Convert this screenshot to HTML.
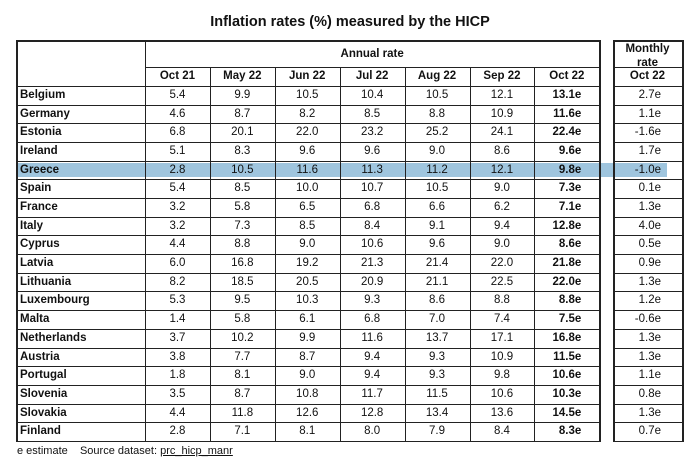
<!DOCTYPE html>
<html><head><meta charset="utf-8"><style>
body{margin:0;width:700px;height:460px;background:#fff;font-family:"Liberation Sans",Arial,sans-serif;position:relative;overflow:hidden;color:#111}
.a{position:absolute}
.t{font-size:11.5px;line-height:1;white-space:nowrap}
.b{font-weight:bold}
.hl{background:#9fc5de}
.ln{background:#222}
</style></head><body>
<div class="a b" style="left:0;width:700px;top:14px;text-align:center;font-size:14.5px">Inflation rates (%) measured by the HICP</div>
<div id="tbl"></div>
<div class="a t" style="left:17px;top:446px;font-size:11px">e estimate&nbsp;&nbsp;&nbsp; Source dataset: <span style="text-decoration:underline">prc_hicp_manr</span></div>
<script>
const countries=["Belgium","Germany","Estonia","Ireland","Greece","Spain","France","Italy","Cyprus","Latvia","Lithuania","Luxembourg","Malta","Netherlands","Austria","Portugal","Slovenia","Slovakia","Finland"];
const months=["Oct 21","May 22","Jun 22","Jul 22","Aug 22","Sep 22","Oct 22"];
const oct21=["5.4","4.6","6.8","5.1","2.8","5.4","3.2","3.2","4.4","6.0","8.2","5.3","1.4","3.7","3.8","1.8","3.5","4.4","2.8"];
const may22=["9.9","8.7","20.1","8.3","10.5","8.5","5.8","7.3","8.8","16.8","18.5","9.5","5.8","10.2","7.7","8.1","8.7","11.8","7.1"];
const jun22=["10.5","8.2","22.0","9.6","11.6","10.0","6.5","8.5","9.0","19.2","20.5","10.3","6.1","9.9","8.7","9.0","10.8","12.6","8.1"];
const jul22=["10.4","8.5","23.2","9.6","11.3","10.7","6.8","8.4","10.6","21.3","20.9","9.3","6.8","11.6","9.4","9.4","11.7","12.8","8.0"];
const aug22=["10.5","8.8","25.2","9.0","11.2","10.5","6.6","9.1","9.6","21.4","21.1","8.6","7.0","13.7","9.3","9.3","11.5","13.4","7.9"];
const sep22=["12.1","10.9","24.1","8.6","12.1","9.0","6.2","9.4","9.0","22.0","22.5","8.8","7.4","17.1","10.9","9.8","10.6","13.6","8.4"];
const oct22=["13.1e","11.6e","22.4e","9.6e","9.8e","7.3e","7.1e","12.8e","8.6e","21.8e","22.0e","8.8e","7.5e","16.8e","11.5e","10.6e","10.3e","14.5e","8.3e"];
const monthly=["2.7e","1.1e","-1.6e","1.7e","-1.0e","0.1e","1.3e","4.0e","0.5e","0.9e","1.3e","1.2e","-0.6e","1.3e","1.3e","1.1e","0.8e","1.3e","0.7e"];
const highlight="Greece";
const cols=[oct21,may22,jun22,jul22,aug22,sep22,oct22];
const T=document.getElementById('tbl');
const L=16,C0=145,CW=64.9,TOP=40,HR=67,DR=86,RH=18.68,MX=613,MW=69;
const bottom=DR+countries.length*RH;
function el(cls,css,txt){const d=document.createElement('div');d.className='a '+cls;d.style.cssText=css;if(txt!==undefined)d.textContent=txt;T.appendChild(d);return d;}
const gi=countries.indexOf(highlight);
const h=el('hl',`left:${L+1}px;top:${DR+gi*RH+2}px;width:${667-L-1}px;height:${RH-4}px`);


function hline(x,y,w,t){el('ln',`left:${x}px;top:${y}px;width:${w}px;height:${t}px`);}
function vline(x,y,hh,t){el('ln',`left:${x}px;top:${y}px;width:${t}px;height:${hh}px`);}
const R=C0+7*CW;
hline(L,TOP,R-L+1,1.5);hline(L,bottom,R-L+1,1.5);
vline(L,TOP,bottom-TOP,1.5);vline(R,TOP,bottom-TOP+1,1.5);vline(C0,TOP,bottom-TOP,1.2);
hline(C0,HR,R-C0,1);hline(L,DR,R-L,1);
for(let i=1;i<7;i++)vline(C0+i*CW,HR,bottom-HR,1);
for(let r=1;r<countries.length;r++)hline(L,DR+r*RH,R-L,1);
hline(MX,TOP,MW,1.5);hline(MX,bottom,MW,1.5);vline(MX,TOP,bottom-TOP,1.5);vline(MX+MW,TOP,bottom-TOP+1,1.5);
hline(MX,HR,MW,1);hline(MX,DR,MW,1);
for(let r=1;r<countries.length;r++)hline(MX,DR+r*RH,MW,1);
let e=el('t b',`left:${C0}px;width:${R-C0}px;top:${TOP+9}px;text-align:center`,'Annual rate');


e=el('t b',`left:${MX}px;width:${MW}px;top:${TOP+2}px;text-align:center;line-height:14px`,'');
e.innerHTML='Monthly<br>rate';


months.forEach((m,i)=>{const d=el('t b',`left:${C0+i*CW}px;width:${CW}px;top:${HR+4}px;text-align:center`,m);

});
e=el('t b',`left:${MX}px;width:${MW}px;top:${HR+4}px;text-align:center`,'Oct 22');


countries.forEach((c,r)=>{
 const y=DR+r*RH+4;
 let d=el('t b',`left:${L+4}px;top:${y}px`,c);
 
 
 cols.forEach((col,i)=>{
  const isLast=i===6;
  const txt=col[r];
  const css=isLast?`left:${C0+i*CW}px;width:${CW-18}px;top:${y}px;text-align:right`:`left:${C0+i*CW}px;width:${CW}px;top:${y}px;text-align:center`;
  const v=el('t'+(isLast?' b':''),css,txt);
  
  
 });
 const mv=el('t',`left:${MX}px;width:${MW-21}px;top:${y}px;text-align:right`,monthly[r]);
 
 
});
</script>
</body></html>
